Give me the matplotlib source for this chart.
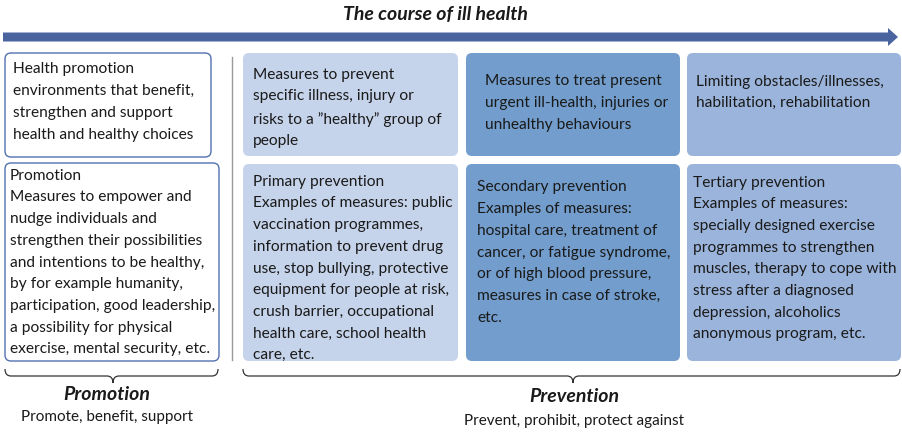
import matplotlib
matplotlib.use("Agg")
import matplotlib.pyplot as plt
from matplotlib.patches import FancyBboxPatch, FancyArrow, PathPatch
from matplotlib.path import Path

plt.rcParams['font.family'] = ['Lato', 'DejaVu Sans']

title = "The course of ill health"

promo_texts = [
    "Health promotion\nenvironments that benefit,\nstrengthen and support\nhealth and healthy choices",
    "Promotion\nMeasures to empower and\nnudge individuals and\nstrengthen their possibilities\n"
    "and intentions to be healthy,\nby for example humanity,\nparticipation, good leadership,\n"
    "a possibility for physical\nexercise, mental security, etc.",
]

prev_top = [
    "Measures to prevent\nspecific illness, injury or\nrisks to a \u201dhealthy\u201d group of\npeople",
    "Measures to treat present\nurgent ill-health, injuries or\nunhealthy behaviours",
    "Limiting obstacles/illnesses,\nhabilitation, rehabilitation",
]
prev_bottom = [
    "Primary prevention\nExamples of measures: public\nvaccination programmes,\ninformation to prevent drug\n"
    "use, stop bullying, protective\nequipment for people at risk,\ncrush barrier, occupational\n"
    "health care, school health\ncare, etc.",
    "Secondary prevention\nExamples of measures:\nhospital care, treatment of\ncancer, or fatigue syndrome,\n"
    "or of high blood pressure,\nmeasures in case of stroke,\netc.",
    "Tertiary prevention\nExamples of measures:\nspecially designed exercise\nprogrammes to strengthen\n"
    "muscles, therapy to cope with\nstress after a diagnosed\ndepression, alcoholics\nanonymous program, etc.",
]
col_colors = ["#c6d4eb", "#729dcc", "#9bb4db"]

groups = ["Promotion", "Prevention"]
group_sub = ["Promote, benefit, support", "Prevent, prohibit, protect against"]

W, H = 903, 434
fig = plt.figure(figsize=(W / 100, H / 100), dpi=100)
ax = fig.add_axes([0, 0, 1, 1])
ax.set_xlim(0, W)
ax.set_ylim(H, 0)
ax.axis('off')

FS = 11.2
LS = 1.70

ax.text(435, 14, title, ha='center', va='center', fontsize=14,
        fontweight='bold', fontstyle='italic', color='#1a1a1a')
ax.add_patch(FancyArrow(3, 37, 885, 0, width=9, head_width=18, head_length=10,
                        length_includes_head=False, color='#4a64a0', lw=0))


def box(x0, y0, x1, y1, fc, ec):
    ax.add_patch(FancyBboxPatch((x0, y0), x1 - x0, y1 - y0,
                                boxstyle="round,pad=0,rounding_size=6",
                                fc=fc, ec=ec, lw=1.0))


def block(x, yc, t):
    ax.text(x, yc + 1.5, t, ha='left', va='center', fontsize=FS, linespacing=LS,
            color='#1a1a1a')


# promotion boxes
promo_boxes = [(5, 53, 211, 157), (5, 163, 219, 361)]
promo_text_pos = [(13, 100.5), (10, 261)]
for b, (tx, ty), t in zip(promo_boxes, promo_text_pos, promo_texts):
    box(*b, fc='white', ec='#5470b0')
    block(tx, ty, t)

ax.plot([232, 232], [57, 360], color='#999999', lw=1)

# prevention grid
cols = [(243, 458), (466, 680), (687, 901)]
rows = [(53, 156), (164, 361)]
top_pos = [(253, 106.5), (485, 101.5), (696, 91)]
bot_pos = [(253, 267), (477, 251), (693, 257)]
for i, (x0, x1) in enumerate(cols):
    box(x0, rows[0][0], x1, rows[0][1], fc=col_colors[i], ec='none')
    box(x0, rows[1][0], x1, rows[1][1], fc=col_colors[i], ec='none')
    block(*top_pos[i], prev_top[i])
    block(*bot_pos[i], prev_bottom[i])


def brace(x0, x1, tip, y0=369, y1=383):
    ym = (y0 + y1) / 2
    r = 6
    verts = [(x0, y0), (x0, ym), (x0 + r, ym), (tip - r, ym), (tip, ym), (tip, y1),
             (tip, ym), (tip + r, ym), (x1 - r, ym), (x1, ym), (x1, y0)]
    codes = [Path.MOVETO, Path.CURVE3, Path.CURVE3, Path.LINETO, Path.CURVE3, Path.CURVE3,
             Path.CURVE3, Path.CURVE3, Path.LINETO, Path.CURVE3, Path.CURVE3]
    ax.add_patch(PathPatch(Path(verts, codes), fc='none', ec='#333333', lw=0.9))


brace(5, 218, 113)
brace(243, 900, 573)

label_x = [107, 574]
label_y = [394, 397]
sub_y = [417, 421]
for g, s, x, y, ys in zip(groups, group_sub, label_x, label_y, sub_y):
    ax.text(x, y, g, ha='center', va='center', fontsize=14, fontweight='bold',
            fontstyle='italic', color='#1a1a1a')
    ax.text(x, ys, s, ha='center', va='center', fontsize=11, color='#1a1a1a')

fig.savefig("out.png", dpi=100)
